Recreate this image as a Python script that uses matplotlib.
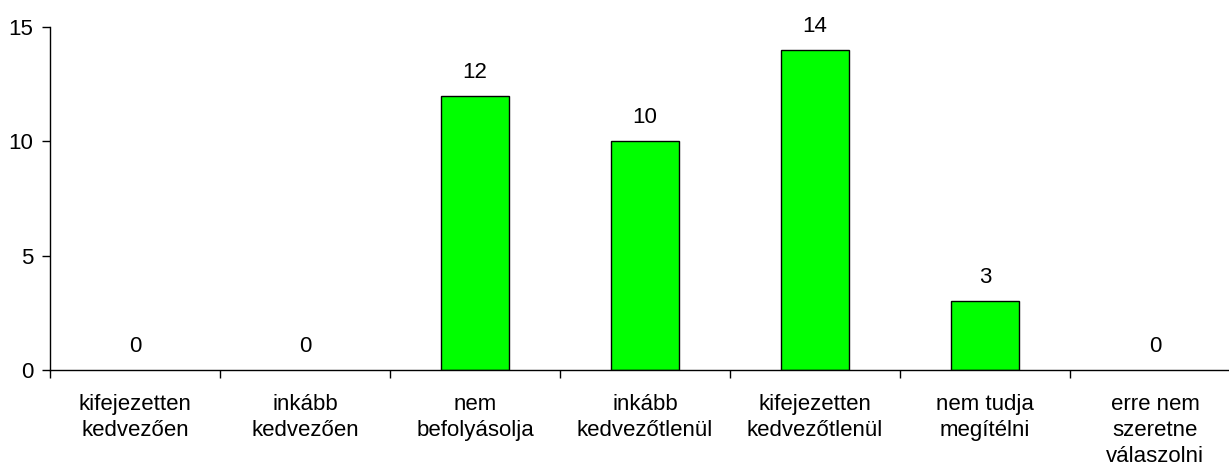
import matplotlib.pyplot as plt
import numpy as np

categories = [
    "kifejezetten\nkedvezően",
    "inkább\nkedvezően",
    "nem\nbefolyásolja",
    "inkább\nkedvezőtlenül",
    "kifejezetten\nkedvezőtlenül",
    "nem tudja\nmegítélni",
    "erre nem\nszeretne\nválaszolni",
]
counts = [0, 0, 12, 10, 14, 3, 0]

plt.rcParams["font.family"] = ["Liberation Sans", "DejaVu Sans"]
plt.rcParams["font.size"] = 16

fig = plt.figure(figsize=(12.29, 4.66), dpi=100)
W, H = 1229, 466
x0, x1 = 50, 50 + 7 * 170
y0, y1 = 370, 27
ax = fig.add_axes([x0 / W, (H - y0) / H, (x1 - x0) / W, (y0 - y1) / H])

x = np.arange(len(categories))
edges = [1 if v > 0 else 0 for v in counts]
ax.bar(x, counts, width=0.4, color="#00FF00", edgecolor="black", linewidth=edges)

for xi, v in zip(x, counts):
    ax.annotate(str(v), (xi, v), xytext=(0, 13), textcoords="offset points",
                ha="center", va="baseline")

ax.set_xlim(-0.5, len(categories) - 0.5)
ax.set_ylim(0, 15)
ax.set_yticks([0, 5, 10, 15])
ax.set_xticks(x)
ax.set_xticklabels(categories, linespacing=1.32)
ax.set_xticks(np.arange(-0.5, len(categories), 1), minor=True)
ax.tick_params(axis="x", which="major", length=0, pad=17)
ax.tick_params(axis="x", which="minor", length=6, width=1, direction="out")
ax.tick_params(axis="y", length=6, width=1, direction="out", pad=6)

for s in ["top", "right"]:
    ax.spines[s].set_visible(False)
for s in ["left", "bottom"]:
    ax.spines[s].set_linewidth(1)

fig.savefig("out.png", dpi=100)
